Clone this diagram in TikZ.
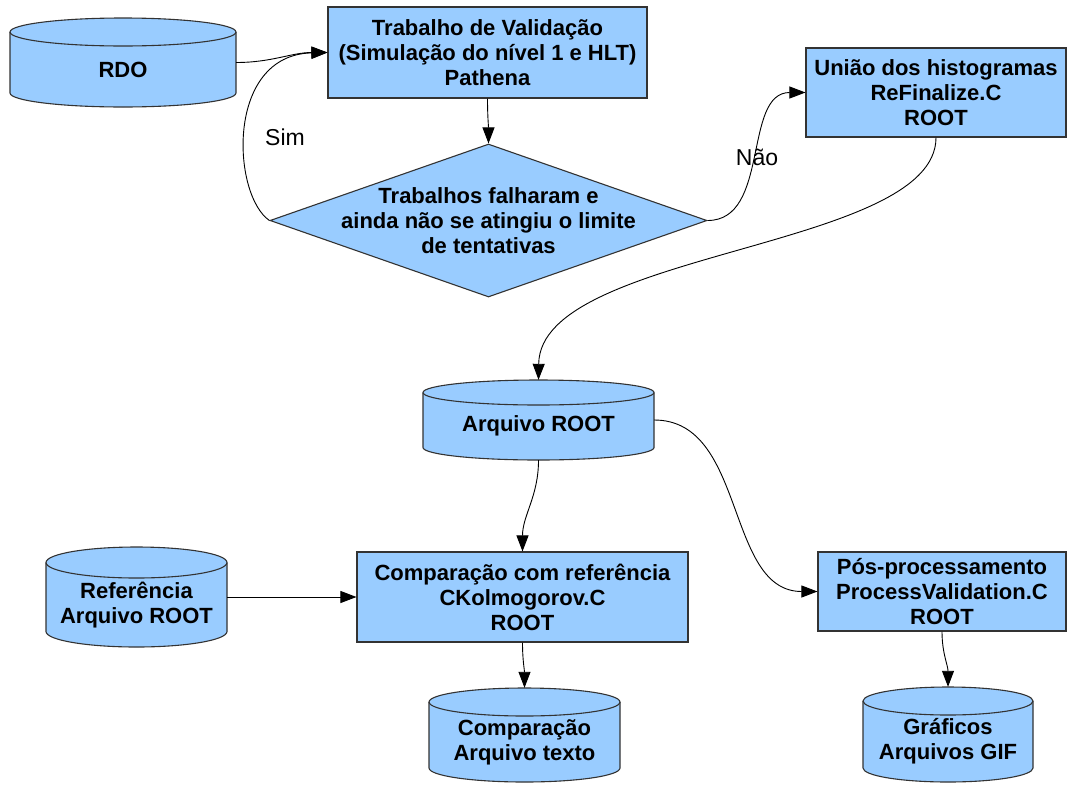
\documentclass[tikz,border=0pt]{standalone}
\usepackage{fontspec}
\setmainfont{Liberation Sans}
\usetikzlibrary{arrows.meta,shapes.geometric}

\definecolor{boxfill}{HTML}{99CCFF}
\definecolor{boxline}{HTML}{333333}

\newcommand\boxfont{\fontsize{22}{25}\selectfont\bfseries}
\newcommand\labelfont{\fontsize{23}{26}\selectfont}

\tikzset{
  procbox/.style={rectangle, draw=boxline, fill=boxfill, line width=1.1pt,
    inner sep=0pt, align=center, font=\boxfont},
  decision/.style={diamond, draw=boxline, fill=boxfill, line width=1.1pt, inner sep=0pt},
  dbshape/.style={draw=boxline, fill=boxfill, line width=1.1pt},
  dbrim/.style={draw=boxline, line width=1.1pt},
  dbframe/.style={rectangle, draw=none, inner sep=0pt},
  boxtext/.style={align=center, font=\boxfont, inner sep=0pt},
  flow/.style={draw=black, line width=0.9pt, -{Triangle[length=16pt,width=12pt]}},
  edgelabel/.style={font=\labelfont, inner sep=0pt}
}

% Data store drawn as a cylinder: name, left, right, top, bottom, rim radius, text
\newcommand\database[7]{%
  \path[dbshape] (#2,#4+#6) -- (#2,#5-#6)
    arc[start angle=180, end angle=0, x radius={(#3-#2)/2}, y radius=#6]
    -- (#3,#4+#6)
    arc[start angle=0, end angle=-180, x radius={(#3-#2)/2}, y radius=#6] -- cycle;
  \draw[dbrim] (#2,#4+#6)
    arc[start angle=180, end angle=0, x radius={(#3-#2)/2}, y radius=#6];
  \node[dbframe, minimum width={(#3-#2)*1pt}, minimum height={(#5-#4)*1pt}]
    (#1) at ({(#2+#3)/2},{(#4+#5)/2}) {};
  \node[boxtext] (#1-text) at ({(#2+#3)/2},{(#4+#6+#5)/2}) {#7};
}

\begin{document}
\begin{tikzpicture}[x=1pt, y=-1pt]
  \useasboundingbox (0,0) rectangle (1068,785);
  \fill[white] (0,0) rectangle (1068,785);

  % data stores
  \database{rdo}{10}{236}{18}{107}{14}{RDO}
  \database{arq}{423}{654}{380}{460}{12.5}{Arquivo ROOT}
  \database{ref}{46}{227}{547}{647}{15.5}{Referência\\Arquivo ROOT}
  \database{ctxt}{429}{620}{688}{782}{14}{Comparação\\Arquivo texto}
  \database{graf}{863}{1033}{687}{782}{14}{Gráficos\\Arquivos GIF}

  % processing steps
  \node[procbox, minimum width=319pt, minimum height=91pt] (valid) at (487.5,52.5)
    {Trabalho de Validação\\(Simulação do nível 1 e HLT)\\Pathena};
  \node[procbox, minimum width=260pt, minimum height=89pt] (union) at (936,92.5)
    {União dos histogramas\\ReFinalize.C\\ROOT};
  \node[procbox, minimum width=331pt, minimum height=90pt] (comp) at (522.5,597)
    {Comparação com referência\\CKolmogorov.C\\ROOT};
  \node[procbox, minimum width=248pt, minimum height=79pt] (pos) at (942,591.5)
    {Pós-processamento\\ProcessValidation.C\\ROOT};

  % decision
  \node[decision, minimum width=437pt, minimum height=153pt] (dia) at (488.5,220.5) {};
  \node[boxtext] (dia-text) at (488.5,220.5)
    {Trabalhos falharam e\\ainda não se atingiu o limite\\de tentativas};

  % connectors
  \draw[flow] (rdo.east) to[out=0, in=180] (valid.west);
  \draw[flow] (dia.west) .. controls (232,195) and (225,55) .. (valid.west);
  \draw[flow] (valid.south) to[out=-90, in=90] (dia.north);
  \draw[flow] (dia.east) to[out=0, in=180] (union.west);
  \draw[flow] (union.south) .. controls (936,250) and (540,250) .. (arq.north);
  \draw[flow] (arq.south) to[out=-90, in=90] (comp.north);
  \draw[flow] (arq.east) to[out=0, in=180] (pos.west);
  \draw[flow] (ref.east) -- (comp.west);
  \draw[flow] (comp.south) to[out=-90, in=90] (ctxt.north);
  \draw[flow] (pos.south) to[out=-90, in=90] (graf.north);

  % branch labels
  \node[edgelabel] (lsim) at (285,137) {Sim};
  \node[edgelabel] (lnao) at (757,157) {Não};
\end{tikzpicture}
\end{document}
